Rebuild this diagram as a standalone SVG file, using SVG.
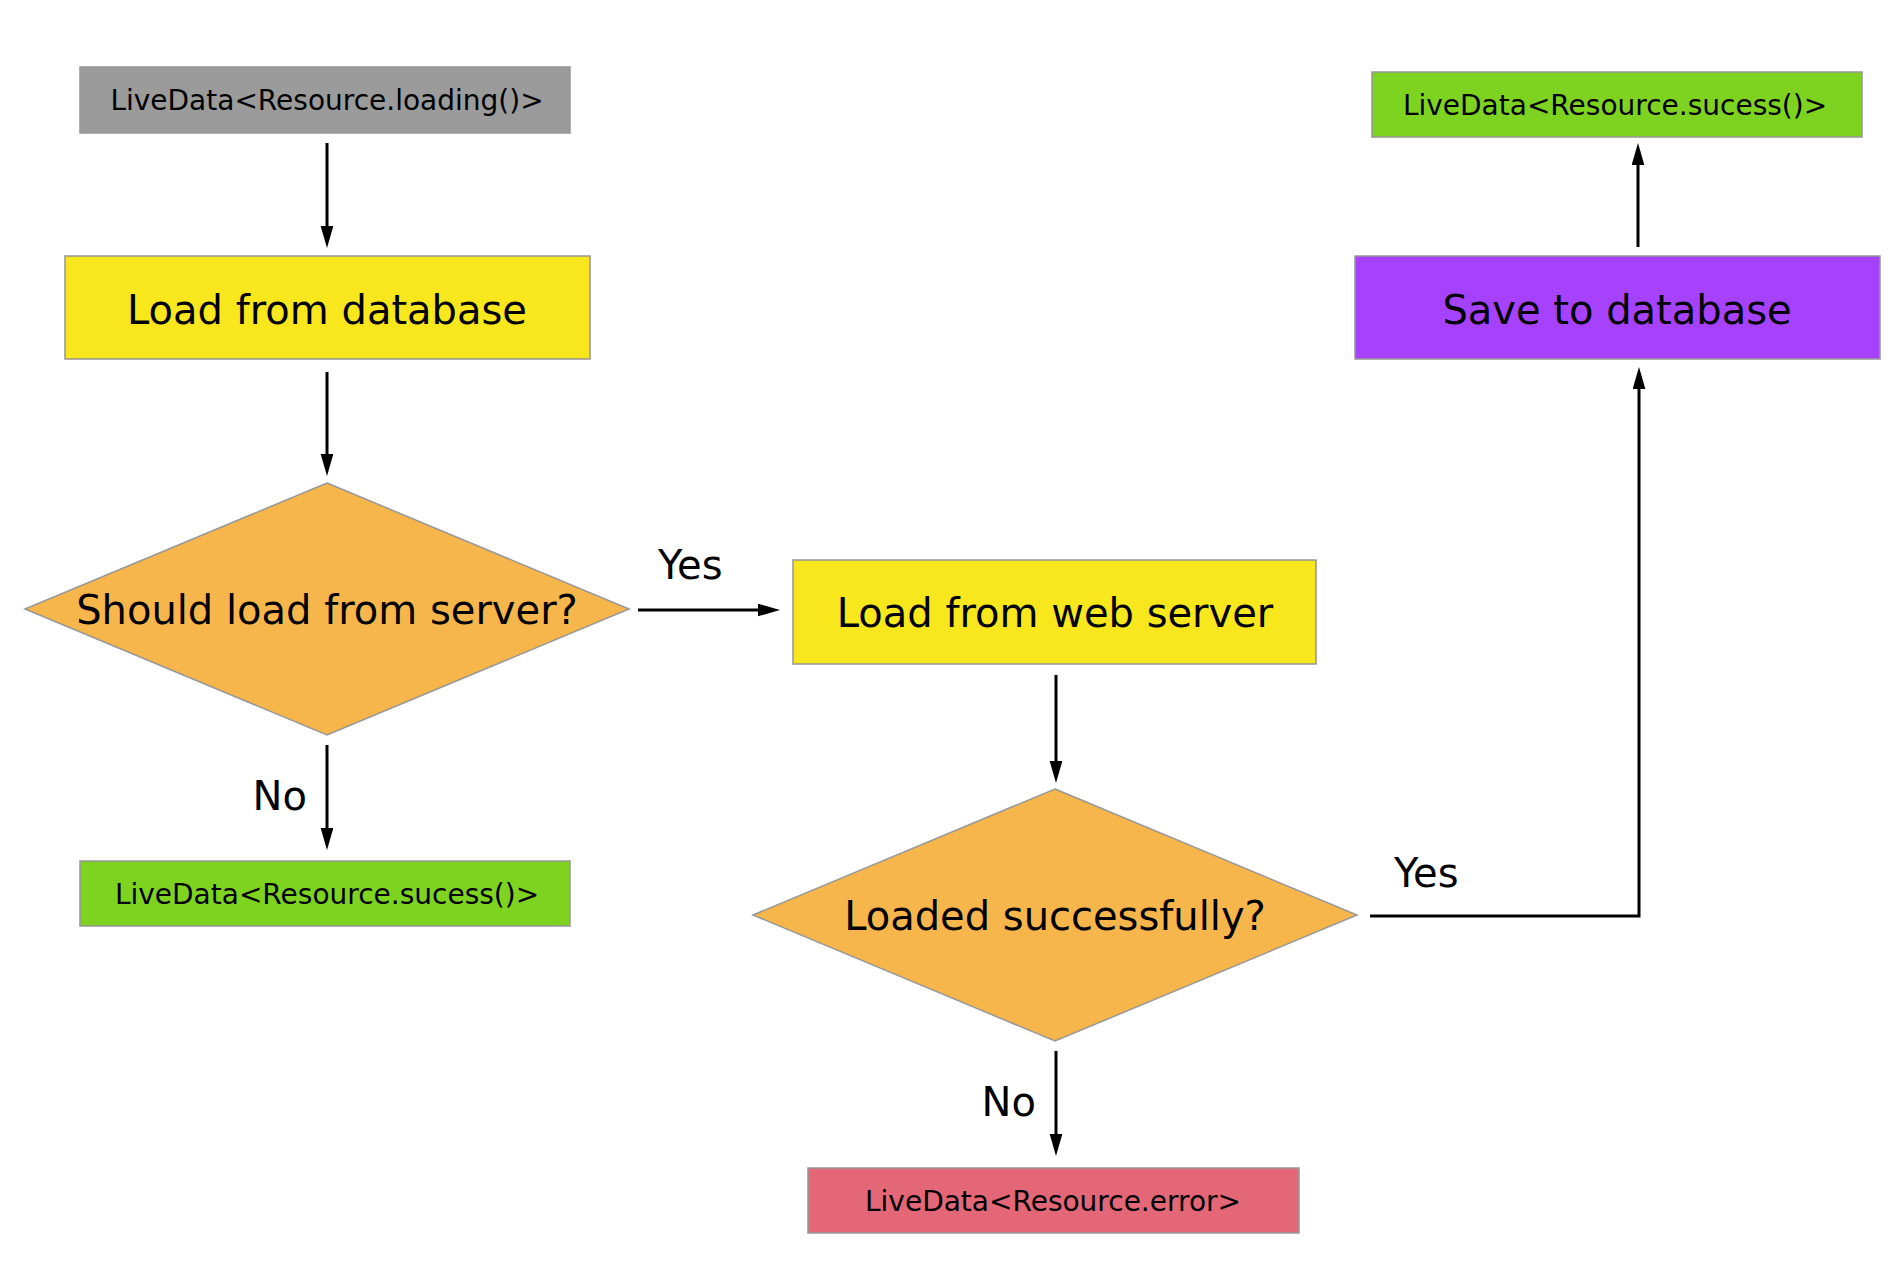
<svg xmlns="http://www.w3.org/2000/svg" width="1896" height="1274" viewBox="0 0 1896 1274">
<style>
  .node { stroke: #979797; stroke-width: 1.5; }
  .t { font-family: "DejaVu Sans", "Liberation Sans", sans-serif; fill: #000; text-anchor: middle; }
  .big { font-size: 40px; }
  .small { font-size: 28px; }
  .lbl { font-family: "DejaVu Sans", "Liberation Sans", sans-serif; font-size: 40px; fill: #000; }
  .conn { fill: none; stroke: #000; stroke-width: 3; marker-end: url(#arrow); }
</style>
<defs>
  <marker id="arrow" markerUnits="userSpaceOnUse" markerWidth="22" markerHeight="13" refX="7" refY="6.35" orient="auto">
    <path d="M0,0 L22,6.35 L0,12.7 z" fill="#000"/>
  </marker>
</defs>
<rect width="1896" height="1274" fill="#fff"/>

<g id="loading">
  <rect class="node" x="80" y="67" width="490" height="66" fill="#9B9B9B"/>
  <text class="t small" x="327" y="110">LiveData&lt;Resource.loading()&gt;</text>
</g>
<g id="loadDb">
  <rect class="node" x="65" y="256" width="525" height="103" fill="#F8E71C"/>
  <text class="t big" x="327" y="324">Load from database</text>
</g>
<g id="shouldLoad">
  <polygon class="node" points="327,483 629,609 327,735 25,609" fill="#F7B64C"/>
  <text class="t big" x="327" y="624">Should load from server?</text>
</g>
<g id="successLeft">
  <rect class="node" x="80" y="861" width="490" height="65" fill="#7ED321"/>
  <text class="t small" x="327" y="904">LiveData&lt;Resource.sucess()&gt;</text>
</g>
<g id="loadWeb">
  <rect class="node" x="793" y="560" width="523" height="104" fill="#F8E71C"/>
  <text class="t big" x="1055" y="627">Load from web server</text>
</g>
<g id="loadedOk">
  <polygon class="node" points="1055,789 1357,915 1055,1041 753,915" fill="#F7B64C"/>
  <text class="t big" x="1055" y="930">Loaded successfully?</text>
</g>
<g id="error">
  <rect class="node" x="808" y="1168" width="491" height="65" fill="#E36776"/>
  <text class="t small" x="1053" y="1211">LiveData&lt;Resource.error&gt;</text>
</g>
<g id="saveDb">
  <rect class="node" x="1355" y="256" width="525" height="103" fill="#A642FE"/>
  <text class="t big" x="1617" y="324">Save to database</text>
</g>
<g id="successRight">
  <rect class="node" x="1372" y="72" width="490" height="65" fill="#7ED321"/>
  <text class="t small" x="1615" y="115">LiveData&lt;Resource.sucess()&gt;</text>
</g>

<g id="connectors">
  <path class="conn" d="M327 143 V233"/>
  <path class="conn" d="M327 372 V461"/>
  <path class="conn" d="M638 610 H765"/>
  <path class="conn" d="M327 745 V835"/>
  <path class="conn" d="M1056 675 V768"/>
  <path class="conn" d="M1056 1051 V1141"/>
  <path class="conn" d="M1370 916 H1639 V382"/>
  <path class="conn" d="M1638 247 V158"/>
  <text class="lbl" x="658" y="579">Yes</text>
  <text class="lbl" x="307" y="810" text-anchor="end">No</text>
  <text class="lbl" x="1394" y="887">Yes</text>
  <text class="lbl" x="1036" y="1116" text-anchor="end">No</text>
</g>
</svg>
